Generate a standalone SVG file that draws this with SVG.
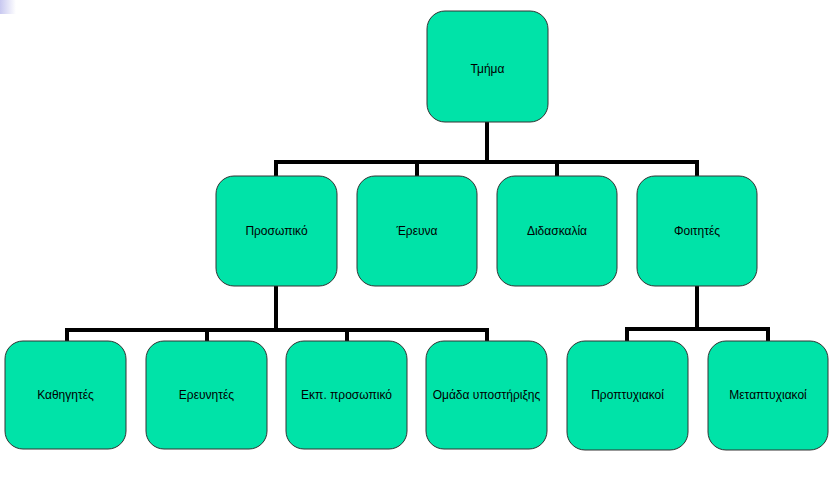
<svg xmlns="http://www.w3.org/2000/svg" width="839" height="489" viewBox="0 0 839 489">
<defs>
<linearGradient id="g" x1="0" y1="0" x2="1" y2="0"><stop offset="0" stop-color="#c8c8f0"/><stop offset="1" stop-color="#ffffff"/></linearGradient>
<style>
.n{fill:#00E3A8;stroke:#333;stroke-width:1}
.t{font-family:"Liberation Sans",Arial,sans-serif;font-size:12px;fill:#000;text-anchor:middle;dominant-baseline:central}
.c{stroke:#000;stroke-width:4;fill:none;stroke-linecap:square}
</style>
</defs>
<rect width="839" height="489" fill="#fff"/>
<rect x="0" y="0" width="16" height="14" fill="url(#g)"/>
<g id="connectors">
<path class="c" d="M487 122V162M276 162H697M276 162V176M417 162V176M557 162V176M697 162V176"/>
<path class="c" d="M276 286V330M67 330H487M67 330V341M207 330V341M347 330V341M487 330V341"/>
<path class="c" d="M697 286V329M627 329H768M627 329V341M768 329V341"/>
</g>
<g id="n-tmima"><rect class="n" x="427" y="11" width="121" height="111" rx="18"/><text class="t" x="487.5" y="69">Τμήμα</text></g>
<g id="n-prosopiko"><rect class="n" x="216" y="176" width="121" height="110" rx="18"/><text class="t" x="276.5" y="231">Προσωπικό</text></g>
<g id="n-erevna"><rect class="n" x="357" y="176" width="120" height="110" rx="18"/><text class="t" x="417" y="231">Έρευνα</text></g>
<g id="n-didaskalia"><rect class="n" x="497" y="176" width="120" height="110" rx="18"/><text class="t" x="557" y="231">Διδασκαλία</text></g>
<g id="n-foitites"><rect class="n" x="637" y="176" width="120" height="110" rx="18"/><text class="t" x="697" y="231">Φοιτητές</text></g>
<g id="n-kathigites"><rect class="n" x="5" y="341" width="121" height="108" rx="18"/><text class="t" x="65.5" y="395">Καθηγητές</text></g>
<g id="n-erevnites"><rect class="n" x="146" y="341" width="121" height="108" rx="18"/><text class="t" x="206.5" y="395">Ερευνητές</text></g>
<g id="n-ekp"><rect class="n" x="286" y="341" width="121" height="108" rx="18"/><text class="t" x="346.5" y="395">Εκπ. προσωπικό</text></g>
<g id="n-omada"><rect class="n" x="426" y="341" width="121" height="108" rx="18"/><text class="t" x="486.5" y="395">Ομάδα υποστήριξης</text></g>
<g id="n-proptyxiakoi"><rect class="n" x="567" y="341" width="121" height="109" rx="18"/><text class="t" x="627.5" y="395">Προπτυχιακοί</text></g>
<g id="n-metaptyxiakoi"><rect class="n" x="708" y="341" width="120" height="109" rx="18"/><text class="t" x="768" y="395">Μεταπτυχιακοί</text></g>
</svg>
